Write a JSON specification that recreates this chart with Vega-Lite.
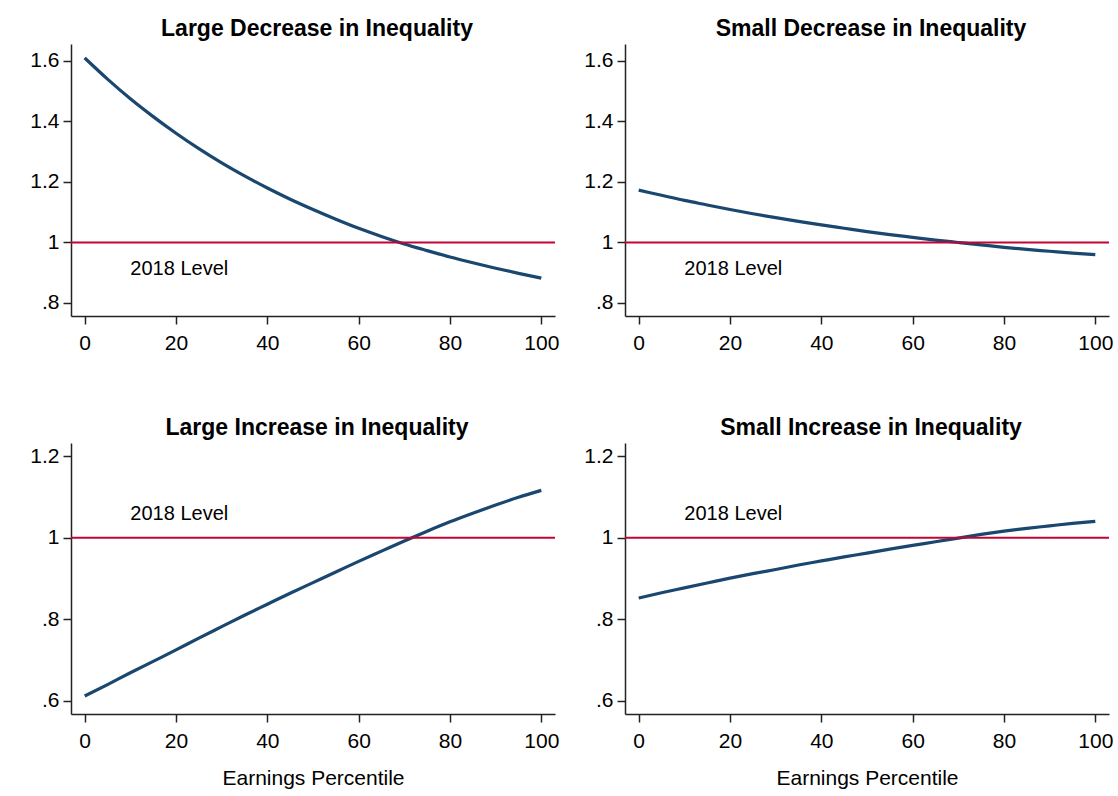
{
  "$schema": "https://vega.github.io/schema/vega-lite/v6.json",
  "padding": {"left": 11, "top": 18, "right": 5, "bottom": 5},
  "background": "white",
  "datasets": {
    "curves": [
      {"panel":"LD","pct":0,"ratio":1.610},{"panel":"LD","pct":5,"ratio":1.540},{"panel":"LD","pct":10,"ratio":1.475},{"panel":"LD","pct":15,"ratio":1.416},{"panel":"LD","pct":20,"ratio":1.361},{"panel":"LD","pct":25,"ratio":1.310},{"panel":"LD","pct":30,"ratio":1.263},{"panel":"LD","pct":35,"ratio":1.220},{"panel":"LD","pct":40,"ratio":1.180},{"panel":"LD","pct":45,"ratio":1.143},{"panel":"LD","pct":50,"ratio":1.109},{"panel":"LD","pct":55,"ratio":1.077},{"panel":"LD","pct":60,"ratio":1.047},{"panel":"LD","pct":65,"ratio":1.020},{"panel":"LD","pct":70,"ratio":0.995},{"panel":"LD","pct":75,"ratio":0.973},{"panel":"LD","pct":80,"ratio":0.952},{"panel":"LD","pct":85,"ratio":0.933},{"panel":"LD","pct":90,"ratio":0.915},{"panel":"LD","pct":95,"ratio":0.898},{"panel":"LD","pct":100,"ratio":0.882},
      {"panel":"SD","pct":0,"ratio":1.173},{"panel":"SD","pct":5,"ratio":1.156},{"panel":"SD","pct":10,"ratio":1.139},{"panel":"SD","pct":15,"ratio":1.124},{"panel":"SD","pct":20,"ratio":1.109},{"panel":"SD","pct":25,"ratio":1.095},{"panel":"SD","pct":30,"ratio":1.082},{"panel":"SD","pct":35,"ratio":1.070},{"panel":"SD","pct":40,"ratio":1.058},{"panel":"SD","pct":45,"ratio":1.047},{"panel":"SD","pct":50,"ratio":1.036},{"panel":"SD","pct":55,"ratio":1.026},{"panel":"SD","pct":60,"ratio":1.017},{"panel":"SD","pct":65,"ratio":1.008},{"panel":"SD","pct":70,"ratio":1.000},{"panel":"SD","pct":75,"ratio":0.992},{"panel":"SD","pct":80,"ratio":0.984},{"panel":"SD","pct":85,"ratio":0.977},{"panel":"SD","pct":90,"ratio":0.971},{"panel":"SD","pct":95,"ratio":0.965},{"panel":"SD","pct":100,"ratio":0.960},
      {"panel":"LI","pct":0,"ratio":0.612},{"panel":"LI","pct":5,"ratio":0.640},{"panel":"LI","pct":10,"ratio":0.669},{"panel":"LI","pct":15,"ratio":0.697},{"panel":"LI","pct":20,"ratio":0.725},{"panel":"LI","pct":25,"ratio":0.754},{"panel":"LI","pct":30,"ratio":0.782},{"panel":"LI","pct":35,"ratio":0.810},{"panel":"LI","pct":40,"ratio":0.837},{"panel":"LI","pct":45,"ratio":0.864},{"panel":"LI","pct":50,"ratio":0.890},{"panel":"LI","pct":55,"ratio":0.916},{"panel":"LI","pct":60,"ratio":0.942},{"panel":"LI","pct":65,"ratio":0.967},{"panel":"LI","pct":70,"ratio":0.992},{"panel":"LI","pct":75,"ratio":1.016},{"panel":"LI","pct":80,"ratio":1.039},{"panel":"LI","pct":85,"ratio":1.060},{"panel":"LI","pct":90,"ratio":1.080},{"panel":"LI","pct":95,"ratio":1.099},{"panel":"LI","pct":100,"ratio":1.116},
      {"panel":"SI","pct":0,"ratio":0.852},{"panel":"SI","pct":5,"ratio":0.865},{"panel":"SI","pct":10,"ratio":0.877},{"panel":"SI","pct":15,"ratio":0.889},{"panel":"SI","pct":20,"ratio":0.901},{"panel":"SI","pct":25,"ratio":0.912},{"panel":"SI","pct":30,"ratio":0.922},{"panel":"SI","pct":35,"ratio":0.933},{"panel":"SI","pct":40,"ratio":0.943},{"panel":"SI","pct":45,"ratio":0.953},{"panel":"SI","pct":50,"ratio":0.962},{"panel":"SI","pct":55,"ratio":0.972},{"panel":"SI","pct":60,"ratio":0.981},{"panel":"SI","pct":65,"ratio":0.990},{"panel":"SI","pct":70,"ratio":0.999},{"panel":"SI","pct":75,"ratio":1.008},{"panel":"SI","pct":80,"ratio":1.016},{"panel":"SI","pct":85,"ratio":1.023},{"panel":"SI","pct":90,"ratio":1.029},{"panel":"SI","pct":95,"ratio":1.035},{"panel":"SI","pct":100,"ratio":1.040}
    ]
  },
  "columns": 2,
  "spacing": {"row": 127, "column": 70},
  "bounds": "flush",
  "concat": [
        {
          "width": 484, "height": 272,
          "title": {"text": "Large Decrease in Inequality"},
          "layer": [
            {"data": {"name": "curves"}, "transform": [{"filter": "datum.panel == 'LD'"}],
             "mark": {"type": "line", "color": "#1a476f", "strokeWidth": 3.2, "interpolate": "monotone"},
             "encoding": {
               "x": {"field": "pct", "type": "quantitative", "scale": {"domain": [-3, 103], "nice": false, "zero": false}, "axis": {"values": [0,20,40,60,80,100], "title": null}},
               "y": {"field": "ratio", "type": "quantitative", "scale": {"domain": [0.757, 1.656], "nice": false, "zero": false}, "axis": {"values": [0.8,1,1.2,1.4,1.6], "title": null, "labelExpr": "datum.value == 1 ? '1' : (datum.value < 1 ? '.' + format(datum.value * 10, '.0f') : format(datum.value, '.1f'))"}}
             }},
            {"data": {"values": [{}]}, "mark": {"type": "rule", "color": "#c10534", "strokeWidth": 2}, "encoding": {"y": {"datum": 1}}},
            {"data": {"values": [{}]}, "mark": {"type": "text", "align": "left", "baseline": "middle", "fontSize": 20, "color": "#000"}, "encoding": {"x": {"datum": 10}, "y": {"datum": 0.912}, "text": {"value": "2018 Level"}}}
          ]
        },
        {
          "width": 484, "height": 272,
          "title": {"text": "Small Decrease in Inequality"},
          "layer": [
            {"data": {"name": "curves"}, "transform": [{"filter": "datum.panel == 'SD'"}],
             "mark": {"type": "line", "color": "#1a476f", "strokeWidth": 3.2, "interpolate": "monotone"},
             "encoding": {
               "x": {"field": "pct", "type": "quantitative", "scale": {"domain": [-3, 103], "nice": false, "zero": false}, "axis": {"values": [0,20,40,60,80,100], "title": null}},
               "y": {"field": "ratio", "type": "quantitative", "scale": {"domain": [0.757, 1.656], "nice": false, "zero": false}, "axis": {"values": [0.8,1,1.2,1.4,1.6], "title": null, "labelExpr": "datum.value == 1 ? '1' : (datum.value < 1 ? '.' + format(datum.value * 10, '.0f') : format(datum.value, '.1f'))"}}
             }},
            {"data": {"values": [{}]}, "mark": {"type": "rule", "color": "#c10534", "strokeWidth": 2}, "encoding": {"y": {"datum": 1}}},
            {"data": {"values": [{}]}, "mark": {"type": "text", "align": "left", "baseline": "middle", "fontSize": 20, "color": "#000"}, "encoding": {"x": {"datum": 10}, "y": {"datum": 0.912}, "text": {"value": "2018 Level"}}}
          ]
        },
        {
          "width": 484, "height": 271,
          "title": {"text": "Large Increase in Inequality"},
          "layer": [
            {"data": {"name": "curves"}, "transform": [{"filter": "datum.panel == 'LI'"}],
             "mark": {"type": "line", "color": "#1a476f", "strokeWidth": 3.2, "interpolate": "monotone"},
             "encoding": {
               "x": {"field": "pct", "type": "quantitative", "scale": {"domain": [-3, 103], "nice": false, "zero": false}, "axis": {"values": [0,20,40,60,80,100], "title": "Earnings Percentile"}},
               "y": {"field": "ratio", "type": "quantitative", "scale": {"domain": [0.568, 1.232], "nice": false, "zero": false}, "axis": {"values": [0.6,0.8,1,1.2], "title": null, "labelExpr": "datum.value == 1 ? '1' : (datum.value < 1 ? '.' + format(datum.value * 10, '.0f') : format(datum.value, '.1f'))"}}
             }},
            {"data": {"values": [{}]}, "mark": {"type": "rule", "color": "#c10534", "strokeWidth": 2}, "encoding": {"y": {"datum": 1}}},
            {"data": {"values": [{}]}, "mark": {"type": "text", "align": "left", "baseline": "middle", "fontSize": 20, "color": "#000"}, "encoding": {"x": {"datum": 10}, "y": {"datum": 1.058}, "text": {"value": "2018 Level"}}}
          ]
        },
        {
          "width": 484, "height": 271,
          "title": {"text": "Small Increase in Inequality"},
          "layer": [
            {"data": {"name": "curves"}, "transform": [{"filter": "datum.panel == 'SI'"}],
             "mark": {"type": "line", "color": "#1a476f", "strokeWidth": 3.2, "interpolate": "monotone"},
             "encoding": {
               "x": {"field": "pct", "type": "quantitative", "scale": {"domain": [-3, 103], "nice": false, "zero": false}, "axis": {"values": [0,20,40,60,80,100], "title": "Earnings Percentile"}},
               "y": {"field": "ratio", "type": "quantitative", "scale": {"domain": [0.568, 1.232], "nice": false, "zero": false}, "axis": {"values": [0.6,0.8,1,1.2], "title": null, "labelExpr": "datum.value == 1 ? '1' : (datum.value < 1 ? '.' + format(datum.value * 10, '.0f') : format(datum.value, '.1f'))"}}
             }},
            {"data": {"values": [{}]}, "mark": {"type": "rule", "color": "#c10534", "strokeWidth": 2}, "encoding": {"y": {"datum": 1}}},
            {"data": {"values": [{}]}, "mark": {"type": "text", "align": "left", "baseline": "middle", "fontSize": 20, "color": "#000"}, "encoding": {"x": {"datum": 10}, "y": {"datum": 1.058}, "text": {"value": "2018 Level"}}}
          ]
        }
  ],
  "config": {
    "font": "Liberation Sans",
    "view": {"stroke": null},
    "axis": {
      "grid": false,
      "domainColor": "#222", "domainWidth": 1.5,
      "tickColor": "#222", "tickWidth": 1.5, "tickSize": 8,
      "labelFont": "Liberation Sans", "labelFontSize": 21, "labelColor": "#000", "labelPadding": 8, "labelFlush": false,
      "titleFont": "Liberation Sans", "titleFontSize": 21, "titleFontWeight": "normal", "titleColor": "#000", "titlePadding": 16
    },
    "axisY": {"minExtent": 60, "labelPadding": 4},
    "title": {"font": "Liberation Sans", "fontSize": 23, "fontWeight": "bold", "color": "#000", "baseline": "alphabetic", "offset": 3, "anchor": "middle", "dx": 4}
  }
}
